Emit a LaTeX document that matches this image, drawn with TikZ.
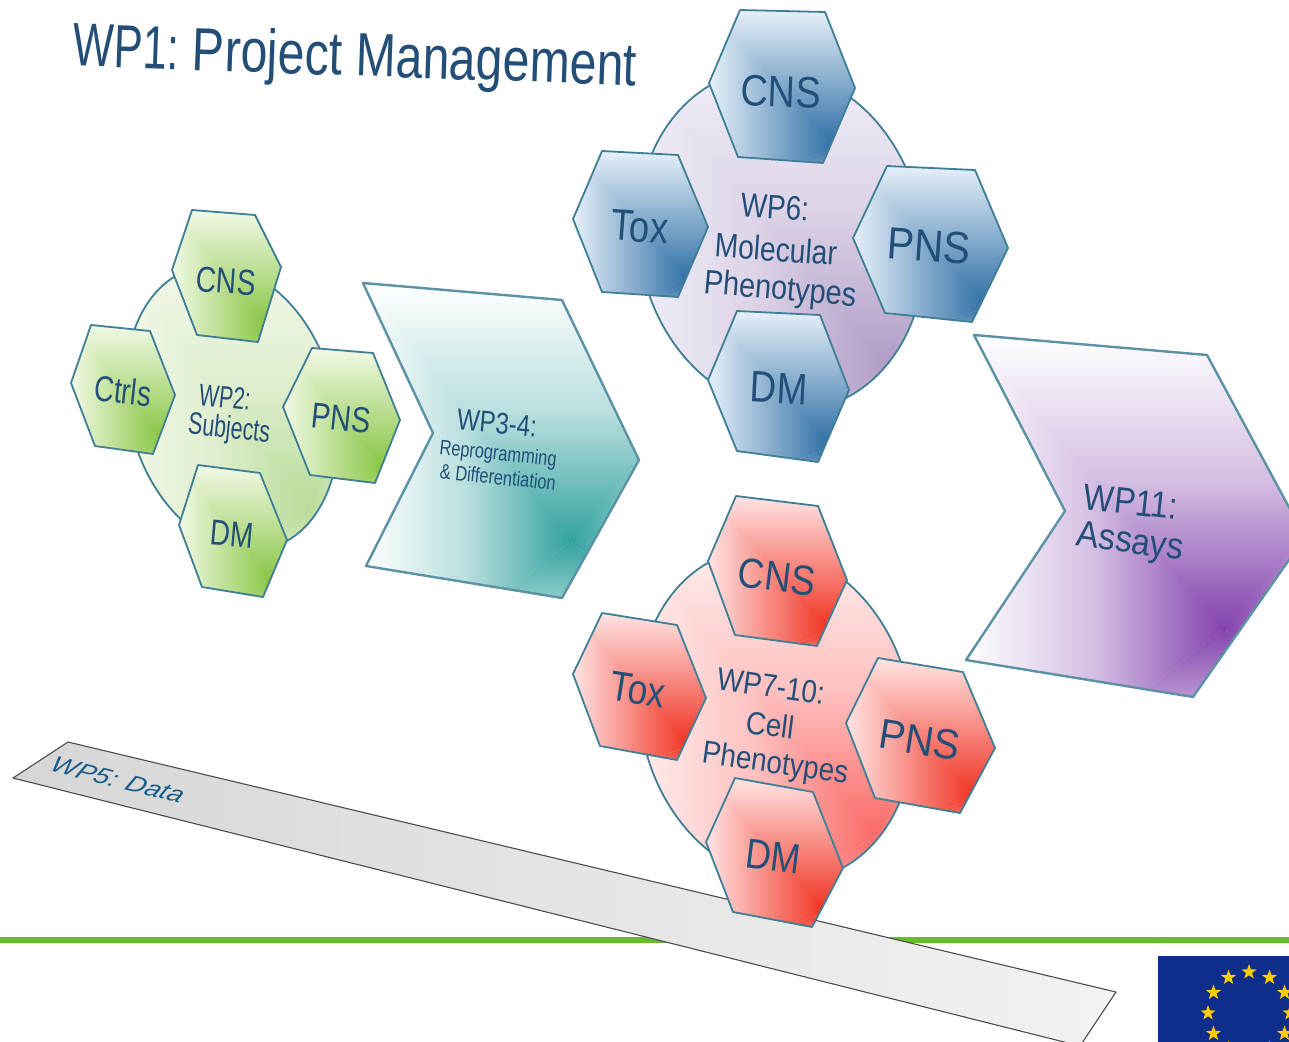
\documentclass[tikz,border=0pt]{standalone}
\usepackage{graphicx}
\usepackage{fontspec}
\setmainfont{Liberation Sans}
\usetikzlibrary{shapes.geometric}
\definecolor{txt}{HTML}{234E78}
\definecolor{txtb}{HTML}{1A5C8A}
\definecolor{flagblue}{HTML}{0F2E8B}
\definecolor{flagstar}{HTML}{FFCC00}
\definecolor{rule}{HTML}{68BC2C}
\definecolor{gl}{HTML}{F2F9E6}\definecolor{gs}{HTML}{86C440}
\definecolor{gcl}{HTML}{F3F8EA}\definecolor{gcs}{HTML}{B9DC9A}
\definecolor{bl}{HTML}{E6F0F9}\definecolor{bs}{HTML}{2B6CA3}
\definecolor{bcl}{HTML}{F3F0F8}\definecolor{bcs}{HTML}{B09CC6}
\definecolor{rl}{HTML}{FFE4E4}\definecolor{rs}{HTML}{F0301F}
\definecolor{rcl}{HTML}{FFF0EF}\definecolor{rcs}{HTML}{FA6A68}
\definecolor{tl}{HTML}{FFFFFF}\definecolor{ts}{HTML}{34A3A0}
\definecolor{pl}{HTML}{FFFFFF}\definecolor{ps}{HTML}{8444AE}
\definecolor{edge}{HTML}{3F7F96}
\newcommand\fs[2]{\fontsize{#1}{#2}\selectfont}
\def\midp{50}
% path, x0,y0,x1,y1, focus fractions, light, strong
\newcommand\pgrad[9]{%
  \pgfmathsetmacro\fx{#2+#6*(#4-#2)}%
  \pgfmathsetmacro\fy{#3+#7*(#5-#3)}%
  \pgfmathsetmacro\ex{#4+2*(#4-\fx)}%
  \pgfmathsetmacro\ey{#5+2*(#5-\fy)}%
  \begin{scope}
    \clip #1;
    \shade[top color=#8,bottom color=#9,middle color=#9!\midp!#8] (#2,#3) rectangle (\ex,\fy);
    \begin{scope}\clip (#2,#3)--(\fx,\fy)--(#2,\ey)--cycle;
      \shade[left color=#8,right color=#9,middle color=#9!\midp!#8] (#2,#3) rectangle (\fx,\ey);\end{scope}
    \begin{scope}\clip (#2,\ey)--(\fx,\fy)--(\ex,\ey)--cycle;
      \shade[top color=#9,bottom color=#8,middle color=#9!\midp!#8] (#2,\fy) rectangle (\ex,\ey);\end{scope}
    \begin{scope}\clip (\ex,#3)--(\fx,\fy)--(\ex,\ey)--cycle;
      \shade[left color=#9,right color=#8,middle color=#9!\midp!#8] (\fx,#3) rectangle (\ex,\ey);\end{scope}
  \end{scope}
  \draw[outl] #1;
}
\tikzset{
  x=1pt,y=-1pt,
  lbl/.style={text=txt,align=center,inner sep=0pt,transform shape},
  outl/.style={draw=edge,line width=1.8pt,line join=round},
  chevout/.style={outl/.style={draw=edge!85!white,line width=2.4pt,line join=round}},
}
\begin{document}
\begin{tikzpicture}
\useasboundingbox (0,0) rectangle (1289,1041);
\clip (0,0) rectangle (1289,1041);
\fill[white] (0,0) rectangle (1289,1041);

% bottom rule and flag
\fill[rule] (0,936.5) rectangle (1289,942.5);
\fill[flagblue] (1158,956) rectangle (1295,1045);
\foreach \a [count=\i] in {0,30,...,330}{
  \pgfmathsetmacro\sx{1249+41*sin(\a)}
  \pgfmathsetmacro\sy{1013-41*cos(\a)}
  \node[star,star points=5,star point ratio=2.5,fill=flagstar,inner sep=0pt,minimum size=16pt] (flagstar\i) at (\sx,\sy) {};
}

% WP5 bar
\begin{scope}
\clip (68,742)--(1116,992)--(1080,1046)--(13,778)--cycle;
\shade[left color=black!16,right color=black!5] (13,742) rectangle (1116,1046);
\end{scope}
\draw[black!70,line width=1.1pt,line join=round] (68,742)--(1116,992)--(1080,1046)--(13,778)--cycle;
\node[lbl,text=txtb,rotate=-14,xscale=1.19,xslant=.22,font=\fs{23}{27}\itshape] (wp5) at (118,780) {WP5: Data};

% title
\node[lbl,rotate=-2,xscale=.79,font=\fs{61}{70}] (title) at (355,60) {\scalebox{.9}[1]{WP1:} Project Management};

% green group
\def\midp{35}
\pgrad{(232,408) ellipse [x radius=103pt,y radius=145pt,rotate=15]}{122}{266}{342}{550}{.85}{.85}{gcl}{gcs}
\def\midp{50}
\pgrad{(192,210)--(255,215)--(281,267)--(258,342)--(197,335)--(172,270)--cycle}{172}{210}{281}{342}{.88}{.9}{gl}{gs}
\pgrad{(91,325)--(150,331)--(175,395)--(153,454)--(95,446)--(71,383)--cycle}{71}{325}{175}{454}{.88}{.9}{gl}{gs}
\pgrad{(312,348)--(373,353)--(400,420)--(375,483)--(310,475)--(283,407)--cycle}{283}{348}{400}{483}{.88}{.9}{gl}{gs}
\pgrad{(198,465)--(260,473)--(287,540)--(263,597)--(202,587)--(179,525)--cycle}{179}{465}{287}{597}{.88}{.9}{gl}{gs}
\node[lbl,rotate=-4,xscale=.78,font=\fs{36}{40}] (gcns) at (226,281) {CNS};
\node[lbl,rotate=-6,xscale=.76,font=\fs{36}{40}] (gctrl) at (123,391) {Ctrls};
\node[lbl,rotate=-6,xscale=.8,font=\fs{36}{40}] (gpns) at (341,418) {PNS};
\node[lbl,rotate=-5,xscale=.77,font=\fs{36}{40}] (gdm) at (232,534) {DM};
\node[lbl,rotate=-6,xscale=.68,font=\fs{31}{33}] (gwpa) at (225,397) {WP2:};
\node[lbl,rotate=-6,xscale=.69,font=\fs{31}{33}] (gwpb) at (229,430) {Subjects};

% teal chevron
\begin{scope}[chevout]
\def\midp{35}
\pgrad{(363,283)--(562,300)--(639,460)--(562,598)--(366,566)--(433,433)--cycle}{363}{283}{639}{598}{.75}{.82}{tl}{ts}
\end{scope}
\node[lbl,rotate=-5,xscale=.8,font=\fs{30}{34}] (twp) at (497,423) {WP3-4:};
\node[lbl,rotate=-6,xscale=.78,font=\fs{21}{23}] (tsuba) at (498,455) {Reprogramming};
\node[lbl,rotate=-6,xscale=.78,font=\fs{21}{23}] (tsubb) at (498,477) {\& Differentiation};

% blue group
\def\midp{35}
\pgrad{(781,240) ellipse [x radius=142pt,y radius=172pt,rotate=12]}{631}{62}{931}{418}{.85}{.85}{bcl}{bcs}
\def\midp{50}
\pgrad{(740,10)--(825,12)--(855,88)--(823,163)--(738,157)--(709,83)--cycle}{709}{10}{855}{163}{.88}{.9}{bl}{bs}
\pgrad{(602,151)--(678,155)--(708,227)--(678,297)--(602,292)--(573,219)--cycle}{573}{151}{708}{297}{.88}{.9}{bl}{bs}
\pgrad{(887,166)--(975,170)--(1008,248)--(972,322)--(885,313)--(853,238)--cycle}{853}{166}{1008}{322}{.88}{.9}{bl}{bs}
\pgrad{(737,311)--(820,315)--(849,390)--(818,462)--(737,451)--(708,380)--cycle}{708}{311}{849}{462}{.88}{.9}{bl}{bs}
\node[lbl,rotate=-2,xscale=.86,font=\fs{44}{48}] (bcns) at (781,92) {CNS};
\node[lbl,rotate=-4,xscale=.83,font=\fs{44}{48}] (btox) at (640,227) {Tox};
\node[lbl,rotate=-4,xscale=.9,font=\fs{45}{48}] (bpns) at (929,246) {PNS};
\node[lbl,rotate=-3,xscale=.83,font=\fs{44}{48}] (bdm) at (779,388) {DM};
\node[lbl,rotate=-4,xscale=.82,font=\fs{34}{42}] (bwpa) at (775,207) {WP6:};
\node[lbl,rotate=-4,xscale=.83,font=\fs{34}{42}] (bwpb) at (776,249) {Molecular};
\node[lbl,rotate=-5,xscale=.85,font=\fs{34}{42}] (bwpc) at (780,291) {Phenotypes};

% purple chevron
\begin{scope}[chevout]
\def\midp{35}
\pgrad{(974,335)--(1207,355)--(1305,537)--(1193,697)--(966,660)--(1065,511)--cycle}{966}{335}{1305}{697}{.76}{.81}{pl}{ps}
\end{scope}
\node[lbl,rotate=-6,xscale=.87,font=\fs{37}{42}] (pwpa) at (1131,502) {WP11:};
\node[lbl,rotate=-8,xscale=.9,font=\fs{37}{42}] (pwpb) at (1130,544) {Assays};

% red group
\def\midp{35}
\pgrad{(776,715) ellipse [x radius=135pt,y radius=168pt,rotate=14]}{633}{543}{919}{887}{.85}{.85}{rcl}{rcs}
\def\midp{50}
\pgrad{(736,496)--(818,506)--(847,580)--(817,646)--(735,635)--(708,561)--cycle}{708}{496}{847}{646}{.88}{.9}{rl}{rs}
\pgrad{(602,613)--(677,625)--(706,698)--(677,760)--(600,746)--(573,674)--cycle}{573}{613}{706}{760}{.88}{.9}{rl}{rs}
\pgrad{(878,658)--(963,672)--(995,748)--(960,813)--(875,798)--(846,723)--cycle}{846}{658}{995}{813}{.88}{.9}{rl}{rs}
\pgrad{(735,778)--(813,792)--(843,868)--(812,927)--(733,912)--(706,842)--cycle}{706}{778}{843}{927}{.88}{.9}{rl}{rs}
\node[lbl,rotate=-7,xscale=.87,font=\fs{42}{46}] (rcns) at (777,577) {CNS};
\node[lbl,rotate=-9,xscale=.84,font=\fs{42}{46}] (rtox) at (638,690) {Tox};
\node[lbl,rotate=-9,xscale=.94,font=\fs{42}{46}] (rpns) at (920,740) {PNS};
\node[lbl,rotate=-7,xscale=.84,font=\fs{42}{46}] (rdm) at (773,856) {DM};
\node[lbl,rotate=-8,xscale=.87,font=\fs{32}{38}] (rwpa) at (771,686) {WP7-10:};
\node[lbl,rotate=-7,xscale=.87,font=\fs{32}{38}] (rwpb) at (770,725) {Cell};
\node[lbl,rotate=-8,xscale=.87,font=\fs{32}{38}] (rwpc) at (775,765) {Phenotypes};
\end{tikzpicture}
\end{document}
